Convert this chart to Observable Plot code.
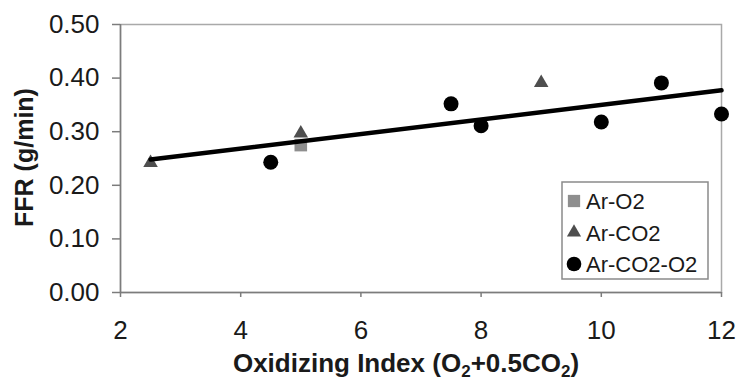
<!DOCTYPE html>
<html>
<head>
<meta charset="utf-8">
<script src="https://cdn.jsdelivr.net/npm/d3@7"></script>
<script src="https://cdn.jsdelivr.net/npm/@observablehq/plot@0.6"></script>
<style>
  html, body { margin: 0; padding: 0; background: #fff; }
  #chart svg { display: block; }
</style>
</head>
<body>
<div id="chart"></div>
<script>
// Feed flow rate vs oxidizing index, by shielding gas mixture
const seriesNames = ["Ar-O2", "Ar-CO2", "Ar-CO2-O2"];

const arO2Index = [5];
const arO2FFR = [0.275];

const arCO2Index = [2.5, 5, 9];
const arCO2FFR = [0.242, 0.297, 0.391];

const arCO2O2Index = [4.5, 7.5, 8, 10, 11, 12];
const arCO2O2FFR = [0.243, 0.352, 0.311, 0.318, 0.391, 0.333];

const xDomain = [2, 12];
const yDomain = [0, 0.5];
const xTicks = [2, 4, 6, 8, 10, 12];
const yTicks = [0, 0.1, 0.2, 0.3, 0.4, 0.5];

const seriesStyle = {
  "Ar-O2": {symbol: "square", fill: "#8e8e8e", r: 7.1},
  "Ar-CO2": {symbol: "triangle", fill: "#4e4e4e", r: 5.4},
  "Ar-CO2-O2": {symbol: "circle", fill: "#000", r: 7.5}
};

const toRows = (name, xs, ys) => xs.map((x, i) => ({series: name, x, y: ys[i]}));
const points = [
  ...toRows("Ar-O2", arO2Index, arO2FFR),
  ...toRows("Ar-CO2", arCO2Index, arCO2FFR),
  ...toRows("Ar-CO2-O2", arCO2O2Index, arCO2O2FFR)
];

const font = "'Liberation Sans', Arial, Helvetica, sans-serif";
const textColor = "#1a1a1a";
const axisColor = "#7c7c7c";

const plot = Plot.plot({
  width: 740,
  height: 380,
  marginLeft: 120,
  marginRight: 19,
  marginTop: 24,
  marginBottom: 88,
  x: {domain: xDomain},
  y: {domain: yDomain},
  style: {fontFamily: font, fontSize: "26px", color: textColor, background: "#fff"},
  marks: [
    Plot.frame({stroke: "#a9a9a9", strokeWidth: 1.5}),
    Plot.ruleX([xDomain[0]], {stroke: axisColor, strokeWidth: 1.5}),
    Plot.ruleY([yDomain[0]], {stroke: axisColor, strokeWidth: 1.5}),
    Plot.axisY(yTicks, {tickSize: 8, tickPadding: 13, tickFormat: d3.format(".2f"), stroke: axisColor, strokeWidth: 1.5, label: null}),
    Plot.axisX(xTicks, {tickSize: 5, tickPadding: 23, stroke: axisColor, strokeWidth: 1.5, label: null}),
    ...seriesNames.map(name => Plot.dot(points.filter(d => d.series === name), {
      x: "x", y: "y",
      symbol: seriesStyle[name].symbol,
      r: seriesStyle[name].r,
      fill: seriesStyle[name].fill,
      stroke: "none"
    })),
    // least-squares trend over all mixtures
    Plot.linearRegressionY(points, {x: "x", y: "y", ci: 0, stroke: "#000", strokeWidth: 4.5})
  ]
});

const svg = d3.select(plot);

// axis titles
const xTitle = svg.append("text")
  .attr("x", 406).attr("y", 372)
  .attr("text-anchor", "middle")
  .attr("font-family", font).attr("font-size", 26).attr("font-weight", "bold")
  .attr("fill", textColor);
xTitle.append("tspan").text("Oxidizing Index (O");
xTitle.append("tspan").attr("font-size", 17).attr("dy", 5).text("2");
xTitle.append("tspan").attr("dy", -5).text("+0.5CO");
xTitle.append("tspan").attr("font-size", 17).attr("dy", 5).text("2");
xTitle.append("tspan").attr("dy", -5).text(")");

svg.append("text")
  .attr("transform", "translate(33,157.5) rotate(-90)")
  .attr("text-anchor", "middle")
  .attr("font-family", font).attr("font-size", 25).attr("font-weight", "bold")
  .attr("fill", textColor)
  .text("FFR (g/min)");

// legend box
const legend = svg.append("g");
legend.append("rect")
  .attr("x", 562).attr("y", 182).attr("width", 146).attr("height", 97)
  .attr("fill", "#fff").attr("stroke", "#8a8a8a").attr("stroke-width", 1.5);

const legendSymbols = {square: d3.symbolSquare, triangle: d3.symbolTriangle, circle: d3.symbolCircle};
seriesNames.forEach((name, i) => {
  const st = seriesStyle[name];
  const cy = 201 + i * 31.5;
  legend.append("path")
    .attr("transform", `translate(574,${cy})`)
    .attr("d", d3.symbol(legendSymbols[st.symbol], Math.PI * st.r * st.r * 0.95)())
    .attr("fill", st.fill);
  legend.append("text")
    .attr("x", 586).attr("y", cy + 8)
    .attr("text-anchor", "start")
    .attr("font-family", font).attr("font-size", 22)
    .attr("fill", textColor)
    .text(name);
});

document.getElementById("chart").appendChild(plot);
</script>
</body>
</html>
